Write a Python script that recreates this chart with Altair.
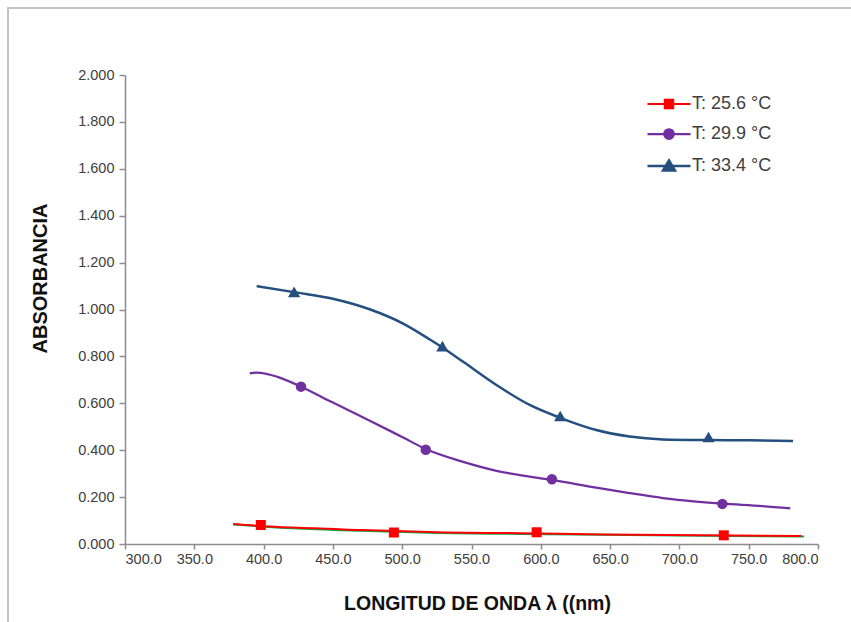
import altair as alt
import pandas as pd

# ---- data ----
series = ["T: 25.6 °C", "T: 29.9 °C", "T: 33.4 °C"]
colors = ["#ff0000", "#7030a0", "#244f7e"]

# smooth curves
red_x = [378, 400, 421, 470, 525, 585, 645, 717, 788]
red_y = [0.085, 0.076, 0.070, 0.060, 0.050, 0.046, 0.041, 0.037, 0.034]

pur_x = [390, 395, 410, 427, 450, 477, 501, 517, 544, 568, 590, 609, 640, 664, 688, 712, 731, 760, 780]
pur_y = [0.728, 0.731, 0.713, 0.671, 0.603, 0.525, 0.453, 0.405, 0.350, 0.312, 0.289, 0.272,
         0.240, 0.217, 0.196, 0.181, 0.172, 0.162, 0.152]

blu_x = [395, 423, 450, 477, 501, 520, 529, 544, 568, 592, 614, 640, 664, 688, 720, 750, 782]
blu_y = [1.100, 1.073, 1.046, 1.000, 0.939, 0.872, 0.838, 0.777, 0.678, 0.593, 0.538, 0.486,
         0.458, 0.446, 0.443, 0.442, 0.439]

# green line under the red one
grn_x = [378, 421, 470, 525, 585, 645, 717, 790]
grn_y = [0.083, 0.067, 0.056, 0.047, 0.043, 0.039, 0.035, 0.032]

# markers
red_mx = [398, 494, 597, 732]
red_my = [0.081, 0.049, 0.050, 0.037]
pur_mx = [427, 517, 608, 731]
pur_my = [0.671, 0.402, 0.276, 0.171]
blu_mx = [422, 529, 614, 721]
blu_my = [1.075, 0.844, 0.546, 0.456]

x_ticks = [300, 350, 400, 450, 500, 550, 600, 650, 700, 750, 800]
y_ticks = [0.0, 0.2, 0.4, 0.6, 0.8, 1.0, 1.2, 1.4, 1.6, 1.8, 2.0]

# legend symbols: a line segment with the series marker in its middle
legend_paths = [
    "M-4.3,0L4.3,0M-0.85,-0.85L0.85,-0.85L0.85,0.85L-0.85,0.85Z",
    "M-4.3,0L4.3,0M-0.95,0A0.95,0.95,0,1,0,0.95,0A0.95,0.95,0,1,0,-0.95,0Z",
    "M-4.3,0L4.3,0M0,-1.1L1.2,0.9L-1.2,0.9Z",
]

# ---- tables ----
lines_df = pd.concat([
    pd.DataFrame({"nm": red_x, "abs": red_y, "serie": series[0]}),
    pd.DataFrame({"nm": pur_x, "abs": pur_y, "serie": series[1]}),
    pd.DataFrame({"nm": blu_x, "abs": blu_y, "serie": series[2]}),
], ignore_index=True)
red_pts = pd.DataFrame({"nm": red_mx, "abs": red_my, "serie": series[0]})
pur_pts = pd.DataFrame({"nm": pur_mx, "abs": pur_my, "serie": series[1]})
blu_pts = pd.DataFrame({"nm": blu_mx, "abs": blu_my, "serie": series[2]})
markers_df = pd.concat([red_pts, pur_pts, blu_pts], ignore_index=True)
green_df = pd.DataFrame({"nm": grn_x, "abs": grn_y})

FONT = "Liberation Sans"
AX = "#8c8c8c"

x_enc = alt.X("nm:Q", scale=alt.Scale(domain=[300, 800], nice=False, zero=False),
              axis=alt.Axis(values=x_ticks, format=".1f", grid=False,
                            title="LONGITUD DE ONDA λ ((nm)",
                            titleFont=FONT, titleFontSize=19.5, titleFontWeight="bold",
                            titleColor="#111111", titleX=352, titleY=59,
                            titleBaseline="middle", titleAlign="center",
                            labelFont=FONT, labelFontSize=14.5, labelColor="#404040",
                            labelPadding=3, tickSize=5, tickColor=AX,
                            domainColor=AX, domainWidth=1.5, tickWidth=1.5))
y_enc = alt.Y("abs:Q", scale=alt.Scale(domain=[0, 2], nice=False),
              axis=alt.Axis(values=y_ticks, format=".3f", grid=False,
                            title="ABSORBANCIA",
                            titleFont=FONT, titleFontSize=20, titleFontWeight="bold",
                            titleColor="#111111", titleAngle=270, titleX=-85, titleY=203,
                            titleBaseline="middle", titleAlign="center",
                            labelFont=FONT, labelFontSize=14.5, labelColor="#404040",
                            labelPadding=5, tickSize=6, tickColor=AX,
                            domainColor=AX, domainWidth=1.5, tickWidth=1.5))

color_scale = alt.Scale(domain=series, range=colors)

legend = alt.Legend(title=None, orient="none", legendX=535, legendY=20, direction="vertical",
                    symbolSize=100, symbolStrokeWidth=1.5, padding=0,
                    labelFont=FONT, labelFontSize=18, labelColor="#404040",
                    labelOffset=14, rowPadding=11)

# legend carrier: no rows drawn, only provides the legend
carrier = alt.Chart(markers_df).transform_filter("false").mark_point(
    filled=True, strokeWidth=1.5, opacity=1).encode(
    x=x_enc, y=y_enc,
    color=alt.Color("serie:N", scale=color_scale, legend=legend),
    stroke=alt.Stroke("serie:N", scale=color_scale, legend=legend),
    shape=alt.Shape("serie:N", scale=alt.Scale(domain=series, range=legend_paths), legend=legend),
)

frame_src = pd.DataFrame({"k": [1]})
frame_left = alt.Chart(frame_src).mark_rule(color="#c4c4c4", strokeWidth=2).encode(
    x=alt.value(-117), y=alt.value(-67), y2=alt.value(560))
frame_top = alt.Chart(frame_src).mark_rule(color="#c4c4c4", strokeWidth=2).encode(
    x=alt.value(-118), x2=alt.value(740), y=alt.value(-67))

green = alt.Chart(green_df).mark_line(color="#00b050", strokeWidth=2,
                                      interpolate="monotone").encode(x=x_enc, y=y_enc)

lines = alt.Chart(lines_df).mark_line(interpolate="monotone").encode(
    x=x_enc, y=y_enc,
    color=alt.Color("serie:N", scale=color_scale, legend=None),
    strokeWidth=alt.StrokeWidth("serie:N", scale=alt.Scale(domain=series, range=[2, 2.5, 2.5]),
                                legend=None),
)

red_m = alt.Chart(red_pts).mark_point(filled=True, opacity=1, shape="square", size=100,
                                      color=colors[0]).encode(x=x_enc, y=y_enc)
pur_m = alt.Chart(pur_pts).mark_point(filled=True, opacity=1, shape="circle", size=110,
                                      color=colors[1]).encode(x=x_enc, y=y_enc)
blu_m = alt.Chart(blu_pts).mark_point(filled=True, opacity=1, shape="triangle-up", size=150,
                                      color=colors[2]).encode(x=x_enc, y=y_enc)

chart = alt.layer(carrier, frame_left, frame_top, green, lines, red_m, pur_m, blu_m).properties(
    width=693, height=469,
    autosize=alt.AutoSizeParams(type="none"),
    padding={"left": 125, "top": 75, "right": 33, "bottom": 78},
    background="white",
).configure_view(stroke=None)

chart.save("out.html", embed_options={"renderer": "svg", "actions": False})
